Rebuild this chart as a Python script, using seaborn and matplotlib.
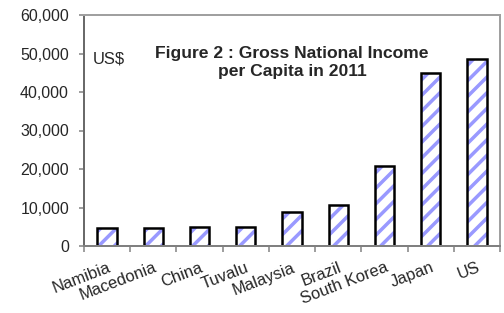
import matplotlib
matplotlib.use("Agg")
import matplotlib.pyplot as plt
import seaborn as sns
from matplotlib.ticker import FuncFormatter, FixedLocator

countries = ["Namibia", "Macedonia", "China", "Tuvalu", "Malaysia",
             "Brazil", "South Korea", "Japan", "US"]
gni = [4700, 4730, 4940, 4950, 8770, 10720, 20870, 44900, 48450]
yticks = [0, 10000, 20000, 30000, 40000, 50000, 60000]
title_text = "Figure 2 : Gross National Income\nper Capita in 2011"
unit_text = "US$"

DPI = 94
def px(v):
    """convert pixel size to points at the chosen dpi"""
    return v * 72.0 / DPI

sns.set_theme(style="white")
plt.rcParams["font.family"] = ["Liberation Sans", "DejaVu Sans"]
plt.rcParams["hatch.linewidth"] = px(3.5)

fig = plt.figure(figsize=(504 / DPI, 313 / DPI), dpi=DPI)
ax = fig.add_axes([84 / 504, 1 - 246 / 313, 416 / 504, 231 / 313])

sns.barplot(x=countries, y=gni, color="white", edgecolor="#9999FF",
            hatch="//", linewidth=0, width=0.42, ax=ax, saturation=1)
sns.barplot(x=countries, y=gni, color="black", fill=False,
            linewidth=px(2.5), width=0.42, ax=ax)

ax.set_xlim(-0.5, len(countries) - 0.5)
ax.set_ylim(yticks[0], yticks[-1])
ax.set_yticks(yticks)
ax.yaxis.set_major_formatter(FuncFormatter(lambda v, p: f"{int(v):,}"))
ax.tick_params(axis="y", labelsize=px(16), length=px(5), width=px(1.5),
               color="#808080", pad=px(10), left=True, direction="out")

# category labels at centers, tick marks at category boundaries
ax.set_xticks(range(len(countries)))
ax.set_xticklabels(countries, rotation=21, ha="right", va="top",
                   rotation_mode="anchor", fontsize=px(16.5))
ax.tick_params(axis="x", which="major", length=0, pad=px(14))
ax.xaxis.set_minor_locator(FixedLocator([i - 0.5 for i in range(len(countries) + 1)]))
ax.tick_params(axis="x", which="minor", length=px(6), width=px(1.5),
               color="#808080", bottom=True, direction="out")

ax.set_xlabel("")
ax.set_ylabel("")
for side in ["left", "bottom"]:
    ax.spines[side].set_color("#808080")
    ax.spines[side].set_linewidth(px(2))
for side in ["top", "right"]:
    ax.spines[side].set_color("#a0a0a0")
    ax.spines[side].set_linewidth(px(2))
ax.spines["left"].set_color("#6a6a6a")

ax.text(0.5, 0.795, title_text, transform=ax.transAxes, ha="center",
        va="center", fontsize=px(17.5), fontweight="bold", linespacing=1.2)
ax.text(0.02, 0.81, unit_text, transform=ax.transAxes, ha="left",
        va="center", fontsize=px(16.5))

fig.savefig("out.png", dpi=DPI)
